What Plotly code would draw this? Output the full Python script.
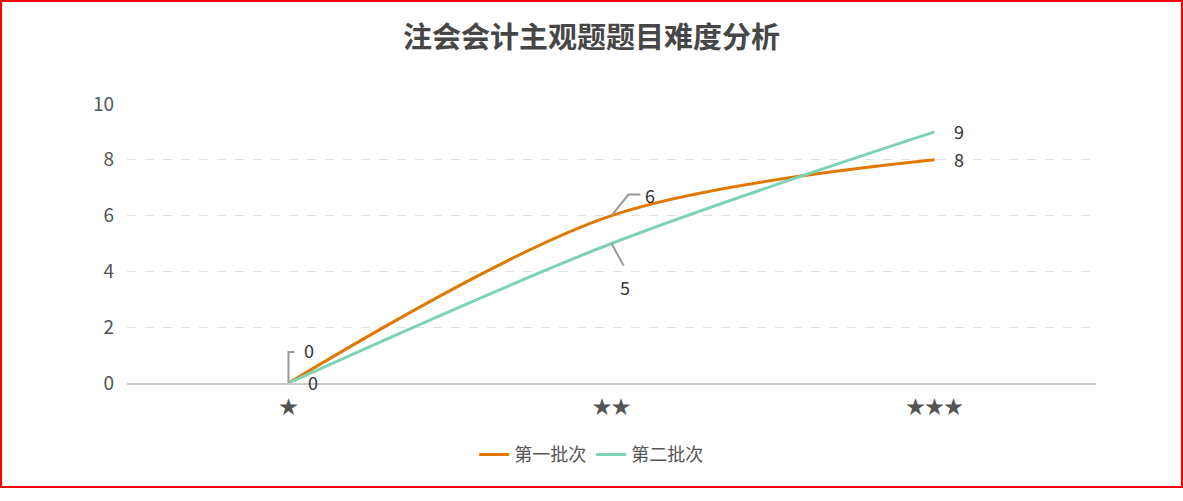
import plotly.graph_objects as go

categories = ["★", "★★", "★★★"]
batch1 = [0, 6, 8]
batch2 = [0, 5, 9]
names = ["第一批次", "第二批次"]
colors = ["#E07800", "#7ED3B6"]
y_ticks = [0, 2, 4, 6, 8, 10]

W, H = 1183, 501
ML, MR, MT, MB = 127, 87, 104, 118
PW = W - ML - MR
PH = H - MT - MB

fig = go.Figure()
for vals, nm, col in zip([batch1, batch2], names, colors):
    fig.add_trace(go.Scatter(
        x=categories, y=vals, name=nm, mode="lines",
        line=dict(color=col, width=3, shape="spline", smoothing=0.9),
        hoverinfo="x+y+name",
    ))

FONT = "Microsoft YaHei, Noto Sans CJK SC, sans-serif"
lab_font = dict(family=FONT, size=18, color="#333333")

# value labels: (category, value, text offset px (x,y down), leader path or None)
label_specs = [
    (categories[0], batch1[0], (20, -33), "M 0 0 L 0 31 L 6 31"),
    (categories[0], batch2[0], (24, -1), None),
    (categories[1], batch1[1], (38, -21), "M 0 0 L 17 21 L 29 21"),
    (categories[1], batch2[1], (13, 43), "M 0 0 L 12 -22"),
    (categories[2], batch2[2], (24, -1), None),
    (categories[2], batch1[2], (24, -1), None),
]
for cat, v, (dx, dy), path in label_specs:
    fig.add_annotation(x=cat, y=v, text=str(v), showarrow=True, arrowcolor="rgba(0,0,0,0)",
                       ax=dx, ay=dy, font=lab_font, xanchor="center", yanchor="middle")
    if path:
        fig.add_shape(type="path", xref="x", yref="y", xsizemode="pixel", ysizemode="pixel",
                      xanchor=cat, yanchor=v, path=path,
                      line=dict(color="#9a9a9a", width=2))

# outer red border
fig.add_shape(type="rect", xref="paper", yref="paper",
              x0=(1 - ML) / PW, x1=(1182 - ML) / PW,
              y0=(H - MB - 487) / PH, y1=(H - MB - 1) / PH,
              line=dict(color="#FF0000", width=2), layer="above")

fig.update_layout(
    width=W, height=H,
    margin=dict(l=ML, r=MR, t=MT, b=MB),
    paper_bgcolor="white", plot_bgcolor="white",
    title=dict(text="<b>注会会计主观题题目难度分析</b>", x=0.5, xanchor="center", y=0.925, yanchor="middle",
               font=dict(family=FONT, size=29, color="#464646")),
    font=dict(family=FONT),
    showlegend=True,
    legend=dict(orientation="h", x=0.479, xanchor="center", y=-0.257, yanchor="middle",
                font=dict(family=FONT, size=18, color="#555555"), itemwidth=30,
                bgcolor="rgba(0,0,0,0)", tracegroupgap=0),
    xaxis=dict(type="category", range=[-0.5, 2.5], showgrid=False, showline=True,
               linecolor="#cccccc", linewidth=2, ticks="", zeroline=False,
               ticklabelstandoff=6,
               tickfont=dict(size=19, color="#555555"), fixedrange=True),
    yaxis=dict(range=[0, 10], tickvals=y_ticks, showgrid=True, gridcolor="#e0e0e0",
               griddash="dash", gridwidth=1, zeroline=False, showline=False, ticks="",
               ticklabelstandoff=12,
               tickfont=dict(size=19, color="#555555"), fixedrange=True),
)

fig.write_html("out.html", config={"displayModeBar": False},
               post_script="document.body.style.margin='0';document.body.style.padding='0';")
